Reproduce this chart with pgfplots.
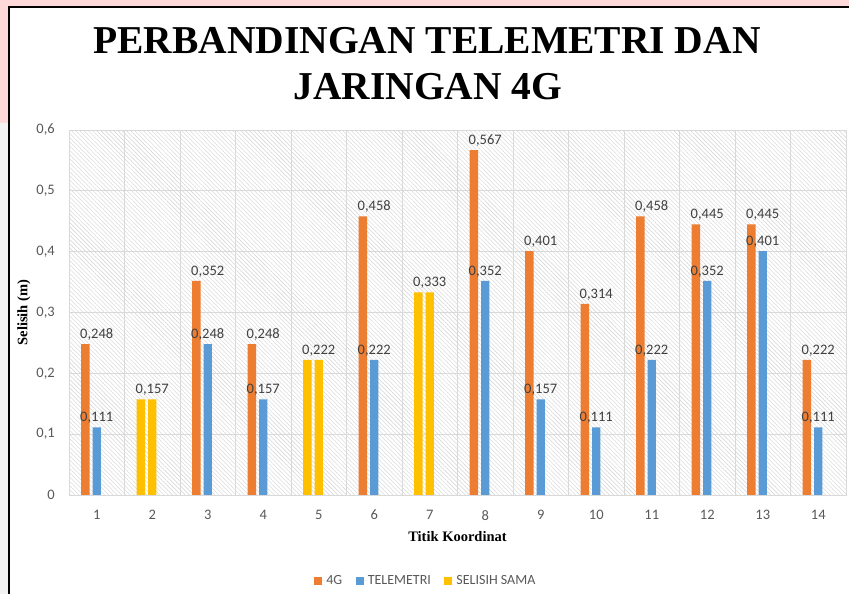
\documentclass[border=0pt]{standalone}
\usepackage{fontspec}
\setmainfont{Carlito}
\newfontfamily\tnr{Liberation Serif}
\usepackage{pgfplots}
\usepackage{pgfplotstable}
\pgfplotsset{compat=1.18}
\usetikzlibrary{patterns.meta}
\definecolor{c4g}{HTML}{ED7D31}
\definecolor{ctel}{HTML}{5B9BD5}
\definecolor{csama}{HTML}{FFC000}
\definecolor{gridc}{HTML}{D9D9D9}
\definecolor{txt}{HTML}{595959}
\definecolor{lbl}{HTML}{404040}
\definecolor{pinkbg}{RGB}{255,217,217}
\definecolor{graybg}{HTML}{F2F2F2}
\definecolor{hatch}{HTML}{D2D2D2}

\pgfplotstableread{
x g t
1 0.248 0.111
3 0.352 0.248
4 0.248 0.157
6 0.458 0.222
8 0.567 0.352
9 0.401 0.157
10 0.314 0.111
11 0.458 0.222
12 0.445 0.352
13 0.445 0.401
14 0.222 0.111
}\datadiff
\pgfplotstableread{
x s
2 0.157
5 0.222
7 0.333
}\datasame

\pgfplotsset{mylabels/.style={nodes near coords={\pgfmathprintnumber[use comma,fixed,fixed zerofill,precision=3]{\pgfplotspointmeta}}}}

\begin{document}
\begin{tikzpicture}
\fill[pinkbg] (0pt,0pt) rectangle (849pt,594pt);
\fill[graybg] (0pt,0pt) rectangle (9pt,471pt);
\fill[white] (9pt,0pt) rectangle (849pt,587pt);
\draw[black, line width=1.5pt] (9pt,0pt) -- (9pt,587pt) -- (849pt,587pt);
\node[font={\tnr\bfseries\fontsize{39.5}{46}\selectfont}, anchor=base, inner sep=0pt] at (427pt,540pt) {PERBANDINGAN TELEMETRI DAN};
\node[font={\tnr\bfseries\fontsize{39.5}{46}\selectfont}, anchor=base, inner sep=0pt] at (428pt,494pt) {JARINGAN 4G};
\begin{axis}[
  at={(69pt,99pt)}, anchor=south west, scale only axis,
  width=777pt, height=365pt,
  xmin=0.5, xmax=14.5, ymin=0, ymax=0.6,
  xtick={1,...,14}, minor xtick={0.5,1.5,...,14.5},
  ytick={0,0.1,0.2,0.3,0.4,0.5,0.6},
  xminorgrids, ymajorgrids,
  grid style={gridc, line width=0.8pt},
  minor grid style={gridc, line width=0.8pt},
  major tick length=0pt, minor tick length=0pt,
  tick style={draw=none},
  axis line style={gridc, line width=0.8pt},
  axis background/.style={pattern={Lines[angle=-45,distance=3pt,line width=0.4pt]}, pattern color=hatch},
  /pgf/number format/assume math mode=true,
  ticklabel style={font=\fontsize{14.5}{16}\selectfont, text=txt, inner sep=0pt},
  yticklabel style={/pgf/number format/use comma, /pgf/number format/fixed, xshift=-14pt},
  xticklabel style={yshift=-15pt},
  xlabel={Titik Koordinat}, ylabel={Selisih (m)},
  label style={font=\tnr\bfseries\fontsize{14.5}{16}\selectfont, text=black},
  xlabel style={at={(axis description cs:0.5,-0.115)}, anchor=center},
  ylabel style={at={(axis description cs:-0.058,0.5)}, anchor=center},
  legend style={at={(axis description cs:0.459,-0.2356)}, anchor=center, draw=none, fill=none,
    legend columns=-1, font=\fontsize{14}{16}\selectfont, text=txt, inner sep=0pt,
    nodes={inner sep=1.5pt},
    /tikz/every even column/.append style={column sep=12pt}},
  legend image code/.code={\draw[#1, draw=none] (0pt,-4pt) rectangle (8pt,4pt); \path (0pt,0pt) -- (10.5pt,0pt);},
  every node near coord/.append style={font=\fontsize{14.5}{16}\selectfont, text=lbl, anchor=base, yshift=5.5pt, inner sep=0pt},
]
\addplot[ybar, bar width=0.15, bar shift=-0.205, fill=c4g, draw=none, mylabels] table[x=x,y=g]{\datadiff};
\addlegendentry{4G}
\addplot[ybar, bar width=0.15, bar shift=0, fill=ctel, draw=none, mylabels] table[x=x,y=t]{\datadiff};
\addlegendentry{TELEMETRI}
\addplot[ybar, bar width=0.15, bar shift=-0.205, fill=csama, draw=none] table[x=x,y=s]{\datasame};
\addlegendentry{SELISIH SAMA}
\addplot[ybar, bar width=0.15, bar shift=0, fill=csama, draw=none, forget plot] table[x=x,y=s]{\datasame};
\addplot[ybar, bar width=0.15, bar shift=-0.1025, fill=none, draw=none, mylabels, forget plot] table[x=x,y=s]{\datasame};
\end{axis}
\pgfresetboundingbox
\path[use as bounding box] (0pt,0pt) rectangle (849pt,594pt);
\end{tikzpicture}
\end{document}
